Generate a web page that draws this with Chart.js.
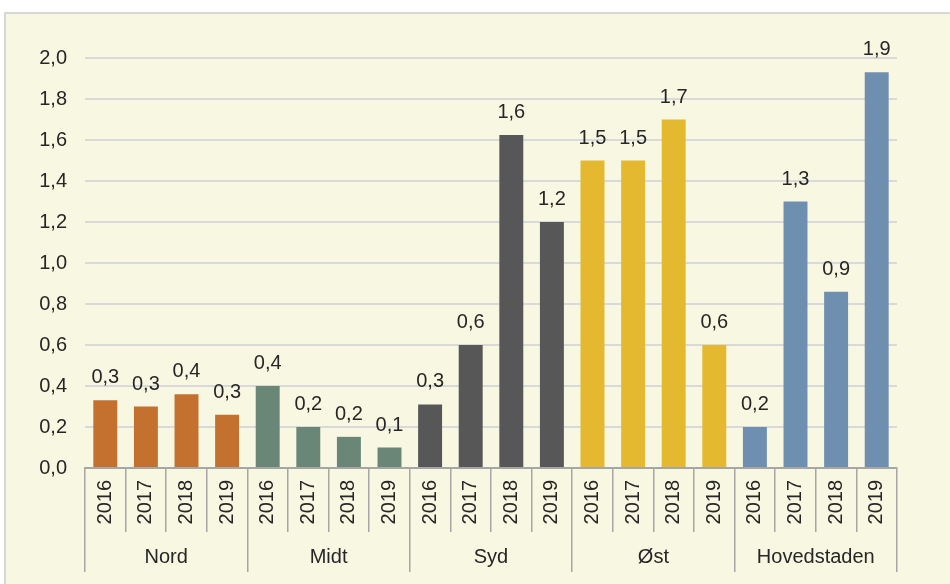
<!DOCTYPE html>
<html>
<head>
<meta charset="utf-8">
<script src="https://cdn.jsdelivr.net/npm/chart.js@4"></script>
<style>
  html, body { margin: 0; padding: 0; background: #ffffff; overflow: hidden; }
  #frame {
    position: absolute; left: 4px; top: 12px; width: 980px; height: 620px;
    border: 2px solid #d7d7d7; background: #f8f7e1;
  }
  #wrap { position: absolute; left: 0; top: 0; width: 950px; height: 584px; }
</style>
</head>
<body>
<div id="frame"></div>
<div id="wrap"><canvas id="myChart" width="950" height="584"></canvas></div>
<script>
const regions = ['Nord', 'Midt', 'Syd', 'Øst', 'Hovedstaden'];
const years = ['2016', '2017', '2018', '2019'];
const nord = [0.33, 0.30, 0.36, 0.26];
const midt = [0.40, 0.20, 0.152, 0.10];
const syd = [0.31, 0.60, 1.625, 1.20];
const ost = [1.50, 1.50, 1.70, 0.60];
const hovedstaden = [0.20, 1.30, 0.86, 1.93];
const regionColors = ['#c4702f', '#6a8676', '#575757', '#e4b930', '#6f8fb0'];

const values = [...nord, ...midt, ...syd, ...ost, ...hovedstaden];
const labels = [];
const colors = [];
regions.forEach((r, i) => {
    years.forEach(y => {
        labels.push(r + ' ' + y);
        colors.push(regionColors[i]);
    });
});

const fmt = v => v.toFixed(1).replace('.', ',');
const FONT = "'Liberation Sans', Arial, sans-serif";

const valueLabels = {
    id: 'valueLabels',
    afterDatasetsDraw(chart) {
        const c = chart.ctx;
        const meta = chart.getDatasetMeta(0);
        c.save();
        c.font = '20px ' + FONT;
        c.fillStyle = '#262626';
        c.textAlign = 'center';
        c.textBaseline = 'alphabetic';
        meta.data.forEach((bar, i) => {
            c.fillText(fmt(values[i]), bar.x, bar.y - 17);
        });
        c.restore();
    }
};

const ctx = document.getElementById('myChart').getContext('2d');
new Chart(ctx, {
    type: 'bar',
    data: {
        labels: labels,
        datasets: [{
            data: values,
            backgroundColor: colors,
            borderWidth: 0,
            barPercentage: 0.59,
            categoryPercentage: 1.0,
            xAxisID: 'x',
        }]
    },
    options: {
        responsive: false,
        animation: false,
        devicePixelRatio: 1,
        layout: { padding: { top: 58, right: 53, bottom: 8, left: 0 } },
        plugins: {
            legend: { display: false },
            tooltip: { enabled: false },
        },
        scales: {
            y: {
                min: 0,
                max: 2,
                afterFit: s => { s.width = 85; },
                ticks: {
                    stepSize: 0.2,
                    padding: 18,
                    color: '#262626',
                    font: { size: 20, family: FONT },
                    callback: v => fmt(v),
                },
                grid: { color: '#d9d9d9', lineWidth: 2, drawTicks: false },
                border: { display: false },
            },
            x: {
                position: 'bottom',
                weight: 0,
                afterFit: s => { s.height = 64; },
                ticks: {
                    autoSkip: false,
                    minRotation: 90,
                    maxRotation: 90,
                    padding: -52,
                    color: '#262626',
                    font: { size: 20, family: FONT },
                    callback: (v, i) => years[i % years.length],
                },
                grid: { drawOnChartArea: false, tickLength: 64, color: '#a6a6a6', lineWidth: 1.5, offset: true },
                border: { color: '#a6a6a6', width: 2 },
            },
            x2: {
                type: 'category',
                labels: regions,
                position: 'bottom',
                weight: 1,
                offset: true,
                afterFit: s => { s.height = 44; },
                ticks: {
                    padding: -27,
                    color: '#262626',
                    font: { size: 20, family: FONT },
                },
                grid: { drawOnChartArea: false, tickLength: 40, color: '#a6a6a6', lineWidth: 1.5, offset: true },
                border: { display: false },
            },
        },
    },
    plugins: [valueLabels],
});
</script>
</body>
</html>
